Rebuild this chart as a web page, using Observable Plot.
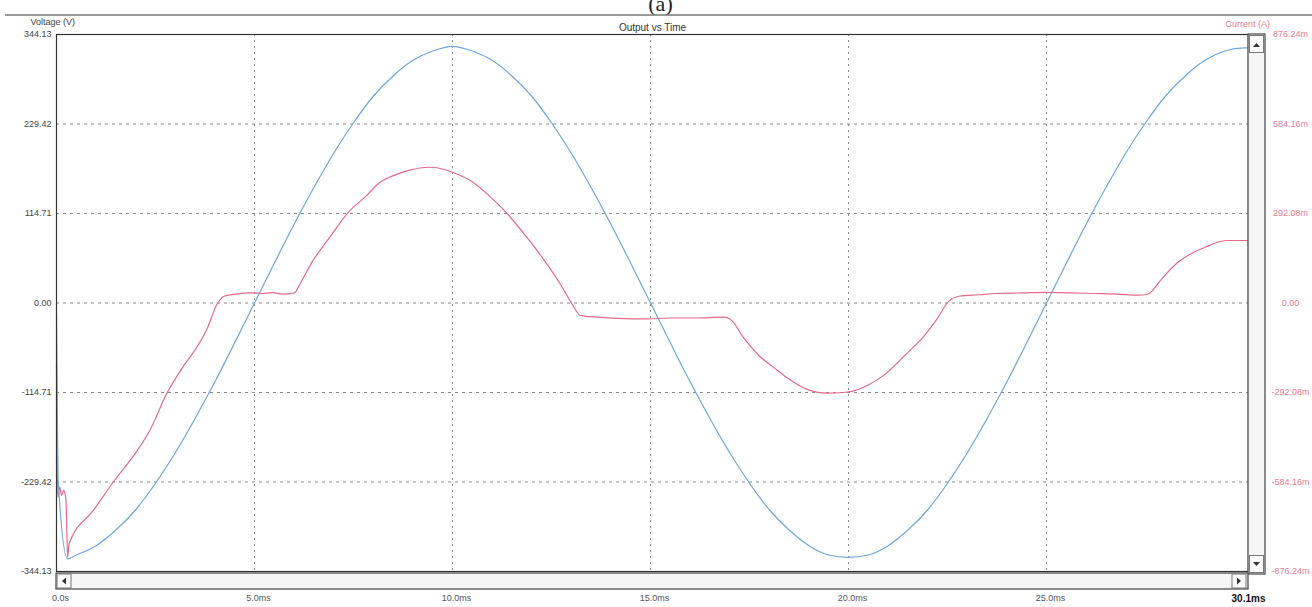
<!DOCTYPE html>
<html><head><meta charset="utf-8">
<script src="https://cdn.jsdelivr.net/npm/d3@7"></script>
<script src="https://cdn.jsdelivr.net/npm/@observablehq/plot@0.6"></script>
<style>html,body{margin:0;padding:0;background:#fff;} #chart{width:1312px;height:607px;overflow:hidden;}</style>
</head><body><div id="chart"></div>
<script>
// ---- data ----
const voltageTimeMs = [0.00,0.02,0.04,0.28,0.5,1.0,1.5,2.0,2.5,3.0,3.5,4.0,4.5,5.0,5.5,6.0,6.5,7.0,7.5,8.0,8.5,9.0,9.5,10.0,10.5,11.0,11.5,12.0,12.5,13.0,13.5,14.0,14.5,15.0,15.5,16.0,16.5,17.0,17.5,18.0,18.5,19.0,19.5,20.0,20.5,21.0,21.5,22.0,22.5,23.0,23.5,24.0,24.5,25.0,25.5,26.0,26.5,27.0,27.5,28.0,28.5,29.0,29.5,30.0,30.1];
const voltageV = [-13,-135,-225,-328,-323,-311,-291,-265,-231,-192,-148,-101,-51,0,51,101,148,192,231,265,291,311,323,329,323,311,291,265,231,192,148,101,51,0,-51,-101,-148,-192,-231,-265,-291,-311,-323,-326,-323,-311,-291,-265,-231,-192,-148,-101,-51,0,51,101,148,192,231,265,291,311,323,327,327];

const currentTimeMs = [0.00,0.03,0.08,0.13,0.18,0.24,0.28,0.32,0.93,1.43,2.04,2.36,2.79,3.19,3.44,3.79,4.07,4.25,4.55,4.87,5.20,5.45,5.70,6.01,6.13,6.46,6.88,7.39,7.81,8.14,8.57,8.97,9.40,9.82,9.97,10.48,10.90,11.33,11.83,12.34,12.74,12.99,13.24,13.67,14.20,14.85,15.50,16.11,16.86,17.01,17.36,17.74,18.11,18.44,18.94,19.45,19.87,20.13,20.53,20.88,21.46,21.88,22.21,22.54,22.79,23.30,23.72,24.40,24.97,25.60,26.23,26.80,27.31,27.49,27.61,27.91,28.32,28.57,29.00,29.57,30.10];
const currentA = [-0.196,-0.634,-0.602,-0.628,-0.611,-0.644,-0.830,-0.785,-0.677,-0.585,-0.481,-0.415,-0.294,-0.209,-0.164,-0.088,0.000,0.023,0.029,0.033,0.031,0.034,0.029,0.033,0.058,0.135,0.211,0.299,0.348,0.391,0.419,0.435,0.443,0.435,0.428,0.397,0.353,0.299,0.222,0.135,0.058,0.003,-0.041,-0.046,-0.050,-0.052,-0.049,-0.049,-0.046,-0.052,-0.115,-0.172,-0.210,-0.243,-0.281,-0.294,-0.292,-0.287,-0.265,-0.237,-0.166,-0.112,-0.057,0.007,0.022,0.027,0.031,0.033,0.035,0.033,0.031,0.029,0.026,0.027,0.033,0.079,0.133,0.155,0.182,0.204,0.204];

const timeTicks = [0, 5, 10, 15, 20, 25, 30.1];
const timeTickLabels = ["0.0s","5.0ms","10.0ms","15.0ms","20.0ms","25.0ms","30.1ms"];
const voltageTicks = [-344.13,-229.42,-114.71,0,114.71,229.42,344.13];
const currentTickLabels = ["-876.24m","-584.16m","-292.08m","0.00","292.08m","584.16m","876.24m"];
const vMax = 344.13, iMax = 0.87624;

const blue = "#6ea6dd", red = "#e66a8c", pink = "#ee7a94";

const vData = voltageTimeMs.map((t,i)=>({t, v: voltageV[i]}));
const iData = currentTimeMs.map((t,i)=>({t, v: currentA[i]*vMax/iMax}));
const gridT = timeTicks.slice(1,6);
const gridV = voltageTicks.slice(1,6);

const plot = Plot.plot({
  width:1312, height:607, marginLeft:56, marginRight:64, marginTop:34, marginBottom:36,
  style:{fontFamily:"Arial, 'Liberation Sans', sans-serif", fontSize:"9px", background:"#fff", overflow:"visible"},
  x:{domain:[0,30.1], axis:null},
  y:{domain:[-vMax, vMax], axis:null},
  marks:[
    Plot.gridX(gridT, {stroke:"#8a8a8a", strokeOpacity:1, strokeDasharray:"2,4"}),
    Plot.gridY(gridV, {stroke:"#8a8a8a", strokeOpacity:1, strokeDasharray:"3,4"}),
    Plot.line(iData, {x:"t", y:"v", stroke:red, strokeWidth:1.2, curve:"monotone-x"}),
    Plot.line(vData, {x:"t", y:"v", stroke:blue, strokeWidth:1.2, curve:"monotone-x"}),
    Plot.frame({stroke:"#333", strokeWidth:1.2}),
    Plot.text(voltageTicks, {y:d=>d, text:d=>d.toFixed(2), frameAnchor:"left", dx:-5, textAnchor:"end", lineAnchor:"middle", fill:"#444"}),
    Plot.text(voltageTicks, {y:d=>d, text:(d,i)=>currentTickLabels[i], frameAnchor:"right", dx:42, textAnchor:"middle", lineAnchor:"middle", fill:pink}),
    Plot.text(timeTicks.slice(0,6), {x:d=>d, text:(d,i)=>timeTickLabels[i], frameAnchor:"bottom", dy:27, dx:4, textAnchor:"middle", lineAnchor:"middle", fill:"#555"}),
    Plot.text(timeTicks.slice(6), {x:d=>d, text:()=>timeTickLabels[6], frameAnchor:"bottom", dy:27, textAnchor:"middle", lineAnchor:"middle", fill:"#111", fontWeight:"bold", fontSize:10}),
    Plot.text(["Output vs Time"], {frameAnchor:"top", dy:-7, textAnchor:"middle", lineAnchor:"middle", fill:"#333", fontSize:10}),
    Plot.text(["(a)"], {frameAnchor:"top", dx:8, dy:-31, textAnchor:"middle", lineAnchor:"middle", fill:"#222", fontSize:22, fontFamily:"'Liberation Serif', serif"}),
    Plot.text(["Voltage (V)"], {frameAnchor:"top-left", dx:-26, dy:-12, textAnchor:"start", lineAnchor:"middle", fill:"#444"}),
    Plot.text(["Current (A)"], {frameAnchor:"top-right", dx:-23, dy:-10, textAnchor:"start", lineAnchor:"middle", fill:pink})
  ]
});
document.getElementById("chart").appendChild(plot);

// window chrome: separator line and scrollbars
const svg = d3.select(plot);
const chrome = svg.append("g");
chrome.append("line").attr("x1",5).attr("x2",1312).attr("y1",15).attr("y2",15).attr("stroke","#777").attr("stroke-width",1.3);
// vertical scrollbar
chrome.append("rect").attr("x",1248).attr("y",34).attr("width",17).attr("height",540).attr("fill","#f5f5f5").attr("stroke","#444").attr("stroke-width",1.2);
chrome.append("rect").attr("x",1249.5).attr("y",35.5).attr("width",14).attr("height",17).attr("fill","#fafafa").attr("stroke","#777");
chrome.append("path").attr("d","M1253,47 L1256.5,43 L1260,47 Z").attr("fill","#333");
chrome.append("rect").attr("x",1249.5).attr("y",555.5).attr("width",14).attr("height",17).attr("fill","#fafafa").attr("stroke","#777");
chrome.append("path").attr("d","M1253,562 L1256.5,566 L1260,562 Z").attr("fill","#333");
// horizontal scrollbar
chrome.append("rect").attr("x",56).attr("y",573).attr("width",1192).attr("height",16).attr("fill","#f5f5f5").attr("stroke","#444").attr("stroke-width",1.2);
chrome.append("rect").attr("x",57).attr("y",574).attr("width",14).attr("height",14).attr("fill","#fafafa").attr("stroke","#777");
chrome.append("path").attr("d","M66,577.5 L62,581 L66,584.5 Z").attr("fill","#333");
chrome.append("rect").attr("x",1232).attr("y",574).attr("width",14).attr("height",14).attr("fill","#fafafa").attr("stroke","#777");
chrome.append("path").attr("d","M1237,577.5 L1241,581 L1237,584.5 Z").attr("fill","#333");
</script>
</body></html>
